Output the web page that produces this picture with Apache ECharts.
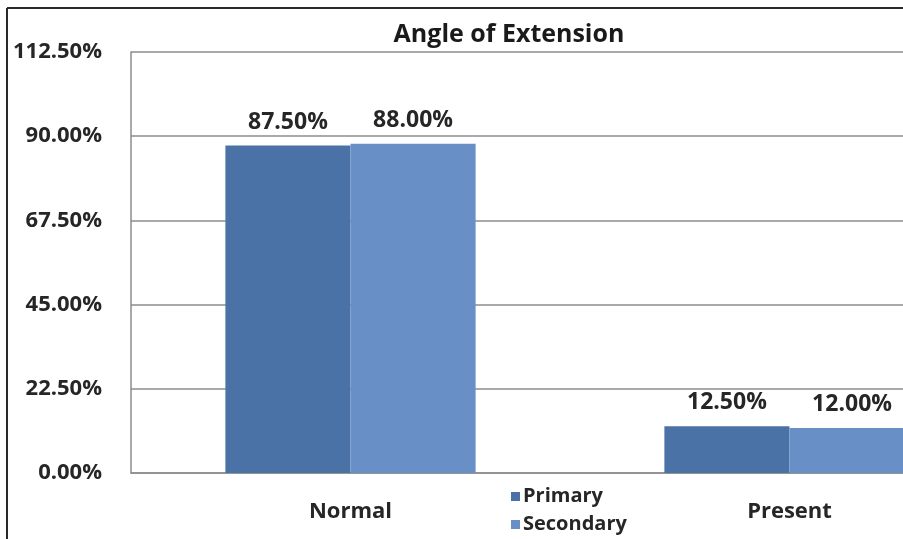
<!DOCTYPE html>
<html>
<head>
<meta charset="utf-8">
<script src="https://cdn.jsdelivr.net/npm/echarts@6/dist/echarts.min.js"></script>
<style>
  html, body { margin: 0; padding: 0; background: #fff; }
  #chart { width: 903px; height: 539px; }
</style>
</head>
<body>
<div id="chart"></div>
<script>
// Chart data
const categories = ['Normal', 'Present'];
const primaryValues = [87.5, 12.5];
const secondaryValues = [88.0, 12.0];
const yTicks = { min: 0, max: 112.5, interval: 22.5 };

const FONT = '"Open Sans", Lato, sans-serif';
const chart = echarts.init(document.getElementById('chart'), null, { renderer: 'canvas' });

const labelStyle = {
  show: true,
  position: 'top',
  distance: 12,
  formatter: p => p.value.toFixed(2) + '%',
  fontFamily: FONT,
  fontWeight: 'bold',
  fontSize: 23,
  color: '#262626'
};

chart.setOption({
  animation: false,
  backgroundColor: '#ffffff',
  title: {
    text: 'Angle of Extension',
    left: 504,
    textAlign: 'center',
    top: 17,
    textStyle: { fontFamily: FONT, fontWeight: 'bold', fontSize: 25, color: '#1a1a1a' }
  },
  legend: {
    orient: 'vertical',
    left: 511,
    top: 485,
    padding: 0,
    itemWidth: 9,
    itemHeight: 9,
    itemGap: 5,
    icon: 'rect',
    textStyle: { fontFamily: FONT, fontWeight: 'bold', fontSize: 20, lineHeight: 23, color: '#262626', padding: [0, 0, 0, -2] },
    data: ['Primary', 'Secondary']
  },
  grid: { left: 131, width: 878, top: 52, height: 421, outerBoundsMode: 'none', containLabel: false },
  xAxis: {
    type: 'category',
    data: categories,
    axisTick: { show: false },
    axisLine: { lineStyle: { color: '#8c8c8c', width: 1.5 } },
    axisLabel: { fontFamily: FONT, fontWeight: 'bold', fontSize: 22, color: '#262626', margin: 28 }
  },
  yAxis: {
    type: 'value',
    min: yTicks.min,
    max: yTicks.max,
    interval: yTicks.interval,
    axisLine: { show: true, lineStyle: { color: '#8c8c8c', width: 1.5 } },
    axisTick: { show: false },
    splitLine: { lineStyle: { color: '#8c8c8c', width: 1.5 } },
    axisLabel: {
      fontFamily: FONT, fontWeight: 'bold', fontSize: 22, color: '#262626', margin: 29,
      formatter: v => v.toFixed(2) + '%'
    }
  },
  series: [
    {
      name: 'Primary', type: 'bar', data: primaryValues,
      barGap: '0%', barCategoryGap: '43%',
      itemStyle: { color: '#4a72a6' },
      label: labelStyle
    },
    {
      name: 'Secondary', type: 'bar', data: secondaryValues,
      itemStyle: { color: '#6990c6' },
      label: labelStyle
    }
  ],
  graphic: [
    { type: 'line', shape: { x1: 7, y1: 8, x2: 903, y2: 8 }, style: { stroke: '#2a2a2a', lineWidth: 2 } },
    { type: 'line', shape: { x1: 7, y1: 8, x2: 7, y2: 539 }, style: { stroke: '#2a2a2a', lineWidth: 2 } }
  ]
});
</script>
</body>
</html>
